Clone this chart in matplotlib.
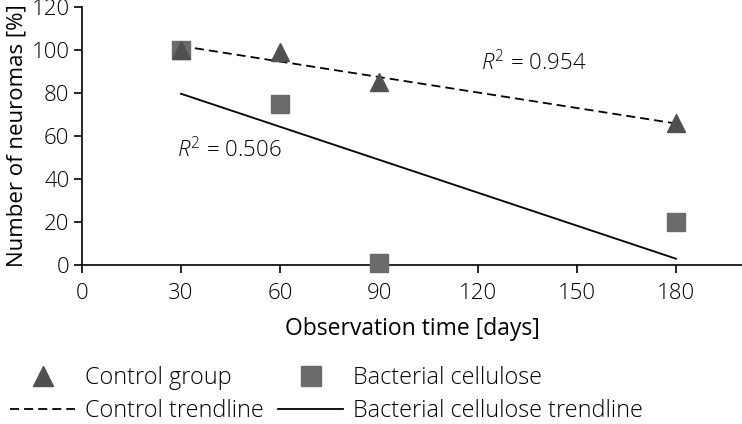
import numpy as np
import matplotlib
matplotlib.use("Agg")
import matplotlib.pyplot as plt
from matplotlib.lines import Line2D

plt.rcParams["font.family"] = ["Open Sans", "DejaVu Sans"]
plt.rcParams["font.weight"] = "light"
plt.rcParams["mathtext.fontset"] = "custom"
plt.rcParams["mathtext.rm"] = "Open Sans:light"
plt.rcParams["mathtext.it"] = "Open Sans:italic:light"

# observation days and percentage of neuromas
days = [30, 60, 90, 180]
control = [100, 99, 85, 66]
cellulose = [100, 75, 1, 20]
r2_control = "0.954"
r2_cellulose = "0.506"
x_ticks = [0, 30, 60, 90, 120, 150, 180]
y_ticks = [0, 20, 40, 60, 80, 100, 120]

dash = (0, (5, 2.8))

fig = plt.figure(figsize=(7.42, 4.24), dpi=100)
ax = fig.add_axes([0.1105, 0.375, 0.8895, 0.608])

x = np.array(days, dtype=float)
fit_c = np.polyfit(x, control, 1)
fit_b = np.polyfit(x, cellulose, 1)
xl = np.array([x.min(), x.max()])

ax.plot(xl, np.polyval(fit_c, xl), color="black", lw=1.3, ls=dash, zorder=2)
ax.plot(xl, np.polyval(fit_b, xl), color="black", lw=1.3, zorder=2)
ax.plot(x, cellulose, ls="none", marker="s", ms=13.5, color="#6b6b6b", clip_on=False, zorder=3)
ax.plot(x, control, ls="none", marker="^", ms=13.5, color="#505050", clip_on=False, zorder=4)

ax.text(137, 94, r"$\mathit{R}^{2}$ = " + r2_control, fontsize=16, ha="center", va="center")
ax.text(44.5, 53.5, r"$\mathit{R}^{2}$ = " + r2_cellulose, fontsize=16, ha="center", va="center")

ax.set_xlim(0, 200)
ax.set_ylim(0, 120)
ax.set_xticks(x_ticks)
ax.set_yticks(y_ticks)
ax.spines["top"].set_visible(False)
ax.spines["right"].set_visible(False)
for s in ["left", "bottom"]:
    ax.spines[s].set_linewidth(1.2)
ax.tick_params(labelsize=16, width=1.2, length=6, direction="out", pad=3)
ax.tick_params(axis="x", pad=7)
ax.set_xlabel("Observation time [days]", fontsize=16.5, labelpad=9)
ax.set_ylabel("Number of neuromas [%]", fontsize=16, labelpad=3)

handles = [
    Line2D([], [], ls="none", marker="^", ms=15, color="#505050"),
    Line2D([], [], color="black", lw=1.3, ls=dash),
    Line2D([], [], ls="none", marker="s", ms=15, color="#6b6b6b"),
    Line2D([], [], color="black", lw=1.3),
]
labels = ["Control group", "Control trendline", "Bacterial cellulose", "Bacterial cellulose trendline"]
fig.legend(handles, labels, ncol=2, loc="lower left", bbox_to_anchor=(10 / 742, 1 / 424),
           frameon=False, fontsize=16.8, handlelength=2.8, handletextpad=0.43,
           columnspacing=0.6, labelspacing=0.38, borderpad=0, borderaxespad=0)

fig.savefig("out.png", dpi=100)
